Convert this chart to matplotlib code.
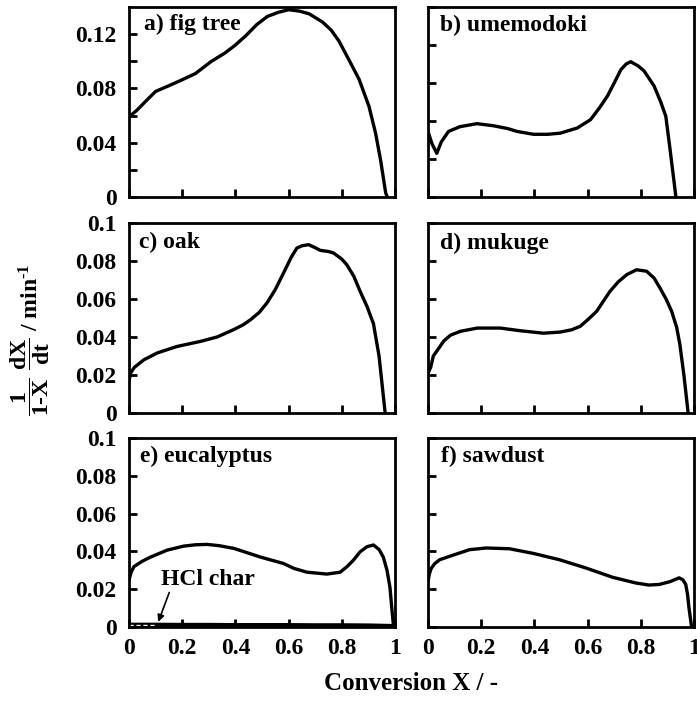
import matplotlib
matplotlib.use("Agg")
import matplotlib.pyplot as plt
from matplotlib.ticker import FixedLocator, FuncFormatter

plt.rcParams['font.family'] = ['Liberation Serif', 'DejaVu Serif']
plt.rcParams['font.weight'] = 'bold'
plt.rcParams['mathtext.fontset'] = 'custom'
plt.rcParams['mathtext.rm'] = 'Liberation Serif:bold'
plt.rcParams['mathtext.it'] = 'Liberation Serif:bold'
plt.rcParams['mathtext.bf'] = 'Liberation Serif:bold'

# ---- data ----
fig_x = [0.0, 0.03, 0.06, 0.10, 0.15, 0.20, 0.25, 0.31, 0.36, 0.40, 0.44, 0.48, 0.52, 0.56, 0.60, 0.64,
         0.677, 0.727, 0.76, 0.789, 0.827, 0.865, 0.902, 0.927, 0.946, 0.965, 0.971]
fig_y = [0.059, 0.064, 0.070, 0.0778, 0.082, 0.0864, 0.091, 0.100, 0.106, 0.112, 0.119, 0.127, 0.133, 0.136, 0.138, 0.137,
         0.135, 0.129, 0.123, 0.115, 0.101, 0.0867, 0.0669, 0.047, 0.027, 0.003, 0.0]

ume_x = [0.0, 0.015, 0.033, 0.05, 0.077, 0.12, 0.184, 0.246, 0.30, 0.335, 0.397, 0.45, 0.498, 0.53, 0.561, 0.611,
         0.645, 0.674, 0.70, 0.725, 0.745, 0.762, 0.79, 0.812, 0.85, 0.875, 0.894, 0.91, 0.932]
ume_y = [0.0345, 0.028, 0.023, 0.029, 0.0345, 0.037, 0.0386, 0.0375, 0.036, 0.0345, 0.033, 0.033, 0.0336, 0.035, 0.0363, 0.0407,
         0.047, 0.053, 0.060, 0.067, 0.070, 0.0712, 0.069, 0.0664, 0.0584, 0.050, 0.0425, 0.025, 0.0]

oak_x = [0.0, 0.006, 0.02, 0.056, 0.106, 0.18, 0.269, 0.331, 0.394, 0.43, 0.456, 0.49, 0.519, 0.55, 0.581, 0.61,
         0.631, 0.65, 0.675, 0.70, 0.719, 0.75, 0.769, 0.80, 0.819, 0.845, 0.869, 0.895, 0.919, 0.94, 0.963]
oak_y = [0.0167, 0.021, 0.024, 0.028, 0.0316, 0.035, 0.0377, 0.040, 0.0439, 0.0465, 0.049, 0.053, 0.058, 0.065, 0.0737, 0.082,
         0.0868, 0.088, 0.0886, 0.087, 0.0856, 0.085, 0.0842, 0.081, 0.078, 0.072, 0.064, 0.056, 0.047, 0.030, 0.0]

muk_x = [0.0, 0.01, 0.02, 0.04, 0.06, 0.085, 0.122, 0.185, 0.272, 0.347, 0.434, 0.497, 0.54, 0.572, 0.60, 0.634,
         0.66, 0.684, 0.715, 0.747, 0.784, 0.822, 0.85, 0.872, 0.895, 0.916, 0.935, 0.947, 0.962, 0.978]
muk_y = [0.021, 0.024, 0.030, 0.034, 0.038, 0.041, 0.043, 0.0447, 0.0447, 0.0433, 0.042, 0.0426, 0.0438, 0.0456, 0.049, 0.0535,
         0.059, 0.064, 0.069, 0.0728, 0.0754, 0.0746, 0.071, 0.0658, 0.060, 0.0535, 0.045, 0.036, 0.020, 0.0]

euc_x = [0.0, 0.008, 0.019, 0.05, 0.081, 0.144, 0.206, 0.25, 0.294, 0.34, 0.394, 0.44, 0.494, 0.581, 0.62, 0.669,
         0.744, 0.794, 0.82, 0.844, 0.869, 0.895, 0.919, 0.94, 0.956, 0.97, 0.981, 0.988, 0.994]
euc_y = [0.0248, 0.029, 0.032, 0.0348, 0.037, 0.0407, 0.0428, 0.0435, 0.0437, 0.043, 0.0416, 0.0395, 0.037, 0.0336, 0.031, 0.029,
         0.028, 0.029, 0.032, 0.0354, 0.0398, 0.0425, 0.0434, 0.041, 0.037, 0.030, 0.021, 0.010, 0.001]

hcl_x = [0.0, 0.1, 0.2, 0.3, 0.4, 0.5, 0.6, 0.7, 0.8, 0.9, 1.0]
hcl_y = [0.0012, 0.0012, 0.0011, 0.0011, 0.0010, 0.0010, 0.0010, 0.0009, 0.0009, 0.0008, 0.0005]

saw_x = [0.0, 0.005, 0.012, 0.025, 0.044, 0.094, 0.156, 0.219, 0.306, 0.394, 0.494, 0.594, 0.694, 0.781, 0.83, 0.869,
         0.91, 0.944, 0.958, 0.969, 0.976, 0.981, 0.991]
saw_y = [0.024, 0.028, 0.031, 0.0335, 0.0356, 0.038, 0.0409, 0.0418, 0.0414, 0.039, 0.0356, 0.0312, 0.0263, 0.0233, 0.0222, 0.0225,
         0.024, 0.026, 0.025, 0.0225, 0.017, 0.0102, 0.0]

panel_labels = ['a) fig tree', 'b) umemodoki', 'c) oak', 'd) mukuge', 'e) eucalyptus', 'f) sawdust']
x_ticks = [0, 0.2, 0.4, 0.6, 0.8, 1.0]
x_ticklabels = ['0', '0.2', '0.4', '0.6', '0.8', '1']

W, H = 697, 701
fig = plt.figure(figsize=(W / 100, H / 100), dpi=100)

cols = [129, 428]
rows = [(7, 197), (223, 413), (438, 627)]
aw = 266

series = [(fig_x, fig_y), (ume_x, ume_y), (oak_x, oak_y), (muk_x, muk_y), (euc_x, euc_y), (saw_x, saw_y)]
ylims = [0.14, 0.1, 0.1, 0.1, 0.1, 0.1]
label_pos = [(0.056, 0.91), (0.045, 0.905), (0.038, 0.90), (0.045, 0.895), (0.041, 0.90), (0.05, 0.90)]

fs = 17
for i, (xs, ys) in enumerate(series):
    r, c = divmod(i, 2)
    top, bot = rows[r]
    ax = fig.add_axes([cols[c] / W, 1 - bot / H, aw / W, (bot - top) / H])
    ax.plot(xs, ys, color='black', lw=2.4, solid_joinstyle='round', solid_capstyle='round')
    ax.set_xlim(0, 1)
    ax.set_ylim(0, ylims[i])
    for s in ax.spines.values():
        s.set_linewidth(2.0)
    ax.xaxis.set_major_locator(FixedLocator(x_ticks))
    if r == 2:
        ax.set_xticklabels(x_ticklabels)
    else:
        ax.set_xticklabels([])
    if i == 0:
        ax.yaxis.set_major_locator(FixedLocator([0, 0.04, 0.08, 0.12]))
        ax.yaxis.set_minor_locator(FixedLocator([0.02, 0.06, 0.10]))
        ax.yaxis.set_major_formatter(FuncFormatter(lambda v, p: '0' if v == 0 else f'{v:.2f}'))
    else:
        ax.yaxis.set_major_locator(FixedLocator([0, 0.02, 0.04, 0.06, 0.08, 0.1]))
        ax.yaxis.set_major_formatter(FuncFormatter(lambda v, p: '0' if v == 0 else ('0.1' if abs(v - 0.1) < 1e-9 else f'{v:.2f}')))
    if c == 1:
        ax.set_yticklabels([])
    ax.tick_params(which='both', direction='in', length=6, width=2, labelsize=fs)
    ax.tick_params(axis='x', which='both', top=False, pad=8)
    ax.tick_params(axis='y', which='both', right=False, pad=9)
    ax.text(label_pos[i][0], label_pos[i][1], panel_labels[i], transform=ax.transAxes,
            fontsize=fs, fontweight='bold', va='center', ha='left')
    if i == 4:
        ax.plot(hcl_x, hcl_y, color='black', lw=3.0)
        ax.plot(hcl_x[:2], hcl_y[:2], color='white', lw=1.0, ls=(0, (3, 2)))
        ax.annotate('HCl char', xy=(0.11, 0.0027), xytext=(0.12, 0.0253),
                    fontsize=fs, fontweight='bold', va='center', ha='left',
                    arrowprops=dict(arrowstyle='-|>', color='black', lw=1.2,
                                    shrinkA=0, shrinkB=0, mutation_scale=10,
                                    relpos=(0.1, 0.0)))

fig.text((129 + 694) / 2 / W, 1 - 683 / H, 'Conversion X / -', ha='center', va='center',
         fontsize=18, fontweight='bold')
fig.text(30 / W, 1 - 340 / H, r'$\dfrac{1}{1\text{-}X}\ \dfrac{dX}{dt}$ / min$^{\text{-}1}$', rotation=90,
         ha='center', va='center', fontsize=17, fontweight='bold')

fig.savefig('out.png', dpi=100)
